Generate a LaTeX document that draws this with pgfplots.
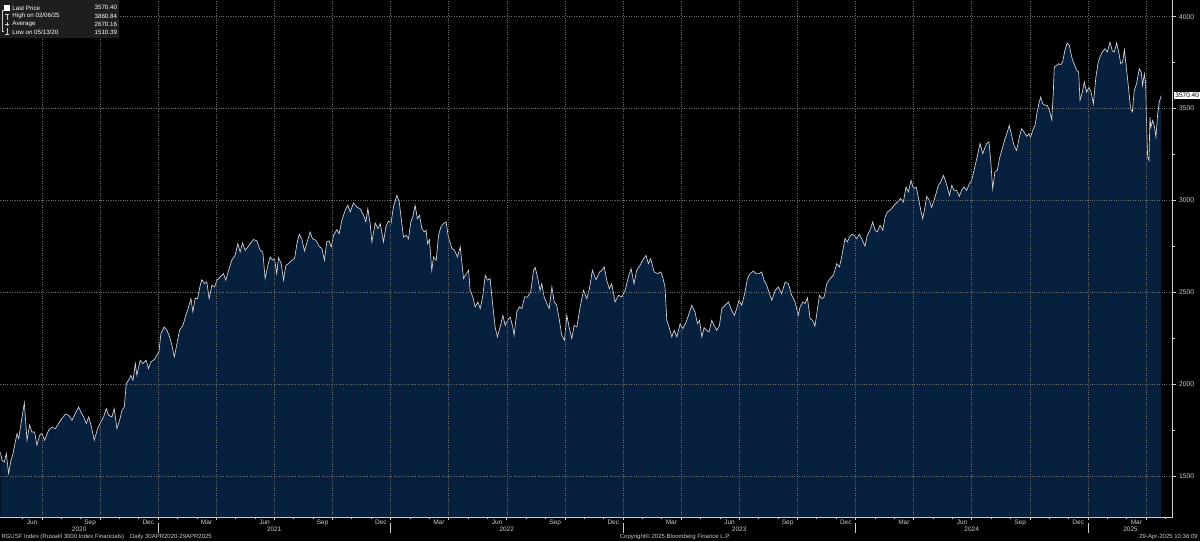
\documentclass[border=0pt]{standalone}
\usepackage{fontspec}
\setmainfont{Liberation Sans}
\usepackage{pgfplots}
\pgfplotsset{compat=1.18}
\usepackage{pgfplotstable}
\usetikzlibrary{backgrounds}
\definecolor{bbnavy}{RGB}{6,32,62}
\definecolor{bbline}{RGB}{215,215,222}
\definecolor{bbgrid}{RGB}{110,110,110}
\definecolor{bbtext}{RGB}{205,205,205}
\definecolor{bblegend}{RGB}{30,30,30}

% x = months since Jan 2020 (fractional), v = index level
\pgfplotstableread{
m v
3.86 1634
3.95 1588
4.07 1579
4.17 1625
4.29 1516
4.41 1588
4.51 1621
4.72 1733
4.81 1706
4.93 1788
5.10 1900
5.24 1697
5.37 1779
5.49 1742
5.63 1742
5.75 1670
5.89 1724
6.01 1733
6.15 1697
6.35 1751
6.53 1769
6.70 1760
6.87 1788
7.04 1815
7.21 1838
7.39 1833
7.56 1806
7.73 1842
7.90 1878
8.02 1851
8.16 1824
8.30 1788
8.42 1824
8.54 1779
8.71 1697
8.88 1760
9.05 1797
9.19 1824
9.33 1869
9.45 1833
9.62 1824
9.74 1869
9.88 1760
10.02 1806
10.14 1860
10.26 1878
10.36 2005
10.48 2023
10.60 2050
10.71 2023
10.83 2114
10.91 2050
11.08 2132
11.22 2114
11.39 2132
11.51 2087
11.63 2123
11.81 2136
11.94 2159
12.05 2177
12.15 2277
12.32 2313
12.46 2295
12.60 2259
12.72 2213
12.84 2150
12.98 2222
13.11 2295
13.29 2322
13.41 2367
13.58 2422
13.70 2467
13.80 2395
13.92 2470
14.04 2467
14.18 2540
14.26 2570
14.40 2549
14.52 2558
14.64 2467
14.78 2540
14.92 2531
15.04 2567
15.21 2585
15.38 2603
15.50 2567
15.64 2621
15.81 2676
15.98 2703
16.12 2766
16.24 2721
16.36 2770
16.50 2730
16.64 2748
16.76 2766
16.93 2788
17.10 2781
17.27 2730
17.41 2721
17.53 2576
17.67 2648
17.79 2694
17.91 2676
18.01 2685
18.13 2603
18.22 2690
18.36 2657
18.48 2567
18.60 2648
18.74 2657
18.91 2676
19.05 2685
19.17 2766
19.29 2817
19.42 2793
19.56 2726
19.70 2775
19.85 2830
19.97 2793
20.15 2784
20.32 2752
20.46 2739
20.59 2676
20.71 2775
20.83 2781
20.94 2748
21.06 2811
21.23 2842
21.35 2820
21.49 2893
21.66 2947
21.80 2975
21.92 2938
22.09 2987
22.26 2965
22.43 2956
22.61 2920
22.73 2884
22.83 2956
22.95 2875
23.04 2775
23.21 2878
23.35 2848
23.47 2875
23.64 2775
23.76 2857
23.90 2889
24.03 2878
24.15 2965
24.33 3029
24.45 2993
24.58 2880
24.67 2802
24.81 2811
24.93 2793
25.05 2884
25.15 2911
25.27 2974
25.39 2902
25.50 2920
25.62 2848
25.74 2830
25.84 2839
25.91 2766
26.01 2788
26.13 2621
26.22 2694
26.36 2676
26.48 2811
26.60 2857
26.74 2875
26.87 2884
26.99 2802
27.17 2739
27.30 2730
27.46 2694
27.60 2748
27.77 2576
27.91 2603
28.03 2621
28.11 2512
28.25 2476
28.37 2422
28.51 2449
28.63 2413
28.77 2485
28.89 2594
29.01 2567
29.14 2576
29.28 2431
29.40 2313
29.52 2259
29.66 2313
29.80 2376
29.92 2322
30.04 2349
30.18 2367
30.31 2313
30.38 2268
30.52 2395
30.66 2422
30.78 2413
30.92 2476
31.07 2476
31.24 2503
31.38 2621
31.47 2636
31.59 2585
31.72 2512
31.81 2549
31.93 2476
32.07 2440
32.19 2413
32.33 2531
32.45 2449
32.58 2431
32.72 2349
32.84 2268
32.98 2241
33.10 2376
33.22 2313
33.36 2250
33.48 2322
33.62 2313
33.79 2422
33.96 2512
34.13 2467
34.27 2521
34.42 2621
34.61 2570
34.79 2612
34.91 2620
35.03 2640
35.16 2567
35.30 2521
35.42 2548
35.59 2449
35.77 2485
35.94 2476
36.11 2512
36.28 2585
36.42 2630
36.57 2548
36.71 2621
36.88 2648
37.06 2684
37.19 2702
37.31 2657
37.43 2684
37.61 2612
37.78 2603
37.95 2612
38.05 2585
38.17 2530
38.26 2349
38.38 2313
38.52 2259
38.64 2295
38.78 2259
38.95 2331
39.09 2304
39.26 2340
39.38 2376
39.55 2431
39.72 2394
39.84 2331
39.95 2349
40.07 2259
40.19 2309
40.32 2295
40.44 2286
40.58 2349
40.70 2322
40.84 2295
40.98 2322
41.10 2413
41.27 2431
41.44 2449
41.61 2403
41.75 2376
41.87 2413
41.99 2458
42.13 2431
42.30 2503
42.42 2575
42.56 2603
42.73 2617
42.87 2603
43.04 2603
43.16 2612
43.28 2567
43.42 2539
43.56 2494
43.68 2458
43.85 2512
44.02 2530
44.19 2494
44.37 2557
44.54 2548
44.71 2485
44.88 2449
45.05 2376
45.14 2422
45.28 2449
45.40 2440
45.52 2472
45.66 2358
45.79 2349
45.91 2317
46.03 2404
46.14 2485
46.26 2467
46.38 2476
46.52 2549
46.69 2576
46.86 2594
47.03 2657
47.17 2639
47.29 2694
47.46 2793
47.58 2775
47.69 2802
47.81 2817
47.93 2811
48.06 2793
48.20 2817
48.32 2793
48.49 2752
48.61 2811
48.75 2839
48.89 2884
49.01 2839
49.13 2830
49.27 2866
49.41 2839
49.53 2911
49.65 2938
49.82 2951
49.99 2974
50.16 2992
50.33 3011
50.47 2992
50.61 3074
50.73 3047
50.87 3110
50.99 3065
51.13 3074
51.25 3016
51.37 2947
51.47 2902
51.59 2965
51.68 3023
51.81 3002
51.93 2962
52.11 3020
52.28 3083
52.40 3101
52.54 3137
52.64 3110
52.74 3074
52.85 3029
52.97 3083
53.09 3056
53.22 3056
53.36 3023
53.48 3056
53.60 3074
53.74 3056
53.88 3092
54.00 3110
54.12 3165
54.26 3228
54.43 3310
54.57 3255
54.69 3291
54.77 3310
54.89 3319
54.98 3219
55.08 3065
55.20 3156
55.32 3165
55.43 3228
55.60 3291
55.72 3337
55.84 3373
55.94 3409
56.06 3355
56.18 3300
56.32 3273
56.46 3346
56.58 3391
56.70 3373
56.84 3349
56.94 3364
57.04 3346
57.18 3391
57.27 3409
57.39 3491
57.49 3536
57.56 3563
57.66 3527
57.78 3518
57.90 3518
58.01 3491
58.13 3440
58.21 3581
58.26 3726
58.38 3735
58.49 3744
58.59 3739
58.69 3753
58.81 3817
58.93 3857
59.04 3844
59.16 3781
59.28 3744
59.42 3708
59.52 3699
59.59 3545
59.71 3590
59.81 3645
59.93 3590
60.05 3617
60.16 3590
60.28 3527
60.41 3672
60.53 3753
60.62 3781
60.74 3808
60.88 3826
61.00 3808
61.14 3860.84
61.26 3813
61.36 3808
61.48 3857
61.60 3802
61.69 3744
61.79 3753
61.88 3820
61.96 3744
62.08 3627
62.20 3500
62.29 3482
62.39 3599
62.51 3636
62.65 3717
62.75 3699
62.82 3627
62.91 3690
62.98 3636
63.03 3400
63.08 3237
63.15 3219
63.20 3454
63.25 3400
63.34 3436
63.42 3409
63.51 3346
63.60 3473
63.68 3536
63.78 3570.40
}\rgusf

\begin{document}
\begin{tikzpicture}[x=1pt,y=1pt]
\begin{axis}[
  scale only axis, width=1172.7pt, height=517pt,
  xmin=3.86, xmax=64.37, ymin=1279, ymax=4089,
  axis x line*=bottom, axis y line*=right,
  axis line style={bbtext, line width=0.6pt},
  ytick={1500,2000,...,4000},
  minor ytick={1750,2250,...,3750},
  yticklabel style={font=\fontsize{6.8}{7}\selectfont, text=bbtext},
  /pgf/number format/assume math mode=true,
  /pgf/number format/1000 sep={},
  xtick={6,9,...,63}, xticklabels={},
  minor xtick={5,7,8,10,11,13,14,16,17,19,20,22,23,25,26,28,29,31,32,34,35,37,38,40,41,43,44,46,47,49,50,52,53,55,56,58,59,61,62,64},
  grid=major,
  major grid style={bbgrid, dotted, line width=0.45pt},
  tick style={bbtext, line width=0.5pt},
  major tick length=3pt, minor tick length=2pt,
  tick align=outside,
  extra x ticks={5.5,8.5,...,62.5},
  extra x tick labels={Jun,Sep,Dec,Mar,Jun,Sep,Dec,Mar,Jun,Sep,Dec,Mar,Jun,Sep,Dec,Mar,Jun,Sep,Dec,Mar},
  extra x tick style={grid=none, major tick length=0pt,
    tick label style={font=\fontsize{6.5}{7}\selectfont, text=bbtext, yshift=1pt}},
  axis on top,
  clip mode=individual,
]
\coordinate (O) at (rel axis cs:0,0);
\addplot[fill=bbnavy, draw=none] table[x=m,y=v] {\rgusf} |- (axis cs:3.86,1279) -- cycle;
\addplot[bbline, line width=0.65pt] table[x=m,y=v] {\rgusf};

% year labels and separators
\node[font=\fontsize{6.5}{7}\selectfont, text=bbtext] at ([yshift=-12pt]axis cs:7.93,1279) {2020};
\node[font=\fontsize{6.5}{7}\selectfont, text=bbtext] at ([yshift=-12pt]axis cs:18,1279) {2021};
\node[font=\fontsize{6.5}{7}\selectfont, text=bbtext] at ([yshift=-12pt]axis cs:30,1279) {2022};
\node[font=\fontsize{6.5}{7}\selectfont, text=bbtext] at ([yshift=-12pt]axis cs:42,1279) {2023};
\node[font=\fontsize{6.5}{7}\selectfont, text=bbtext] at ([yshift=-12pt]axis cs:54,1279) {2024};
\node[font=\fontsize{6.5}{7}\selectfont, text=bbtext] at ([yshift=-12pt]axis cs:62.2,1279) {2025};
\draw[bbtext, line width=0.5pt] ([yshift=-6pt]axis cs:12,1279) -- ([yshift=-16pt]axis cs:12,1279);
\draw[bbtext, line width=0.5pt] ([yshift=-6pt]axis cs:24,1279) -- ([yshift=-16pt]axis cs:24,1279);
\draw[bbtext, line width=0.5pt] ([yshift=-6pt]axis cs:36,1279) -- ([yshift=-16pt]axis cs:36,1279);
\draw[bbtext, line width=0.5pt] ([yshift=-6pt]axis cs:48,1279) -- ([yshift=-16pt]axis cs:48,1279);
\draw[bbtext, line width=0.5pt] ([yshift=-6pt]axis cs:60,1279) -- ([yshift=-16pt]axis cs:60,1279);
% last price tag
\node[fill=white, text=black, anchor=west, inner xsep=1.1pt, inner ysep=1pt,
      font=\fontsize{6.5}{7}\selectfont] at ([xshift=1.5pt]axis cs:64.37,3570.4) {3570.40};
\end{axis}

\begin{scope}[shift={(O)}, yshift=-24pt]
\begin{scope}[on background layer]
\fill[black] (0,0) rectangle (1200,541);
\end{scope}
% legend box
\fill[bblegend] (0,541) rectangle (119,503);
\fill[white] (4,530.5) rectangle (9.5,536);
\draw[bbtext, line width=0.4pt] (4,531) -- (2,531) -- (2,510) -- (4,510);
\draw[bbtext, line width=0.4pt] (5,527) -- (8.5,527) (6.75,527) -- (6.75,521);
\draw[bbtext, line width=0.4pt] (4.5,517) -- (9,517) (6.75,519) -- (6.75,515);
\draw[bbtext, line width=0.4pt] (6.75,513) -- (6.75,507) (5,507) -- (8.5,507);
\begin{scope}[every node/.style={font=\fontsize{6.2}{7}\selectfont, text=white, inner sep=0pt}]
\node[anchor=west] at (12,533.5) {Last Price};
\node[anchor=east] at (117,533.5) {3570.40};
\node[anchor=west] at (12,525.3) {High on 02/06/25};
\node[anchor=east] at (117,525.3) {3860.84};
\node[anchor=west] at (12,517.1) {Average};
\node[anchor=east] at (117,517.1) {2670.16};
\node[anchor=west] at (12,508.9) {Low on 05/13/20};
\node[anchor=east] at (117,508.9) {1510.39};
\end{scope}
% footer
\begin{scope}[every node/.style={font=\fontsize{6}{7}\selectfont, text=bbtext, inner sep=0pt}]
\node[anchor=west] at (1,4) {RGUSF Index (Russell 3000 Index Financials)\quad Daily 30APR2020-29APR2025};
\node at (675,4) {Copyright\copyright\ 2025 Bloomberg Finance L.P.};
\node[anchor=east] at (1198,4) {29-Apr-2025 10:36:09};
\end{scope}
\end{scope}
\end{tikzpicture}
\end{document}
